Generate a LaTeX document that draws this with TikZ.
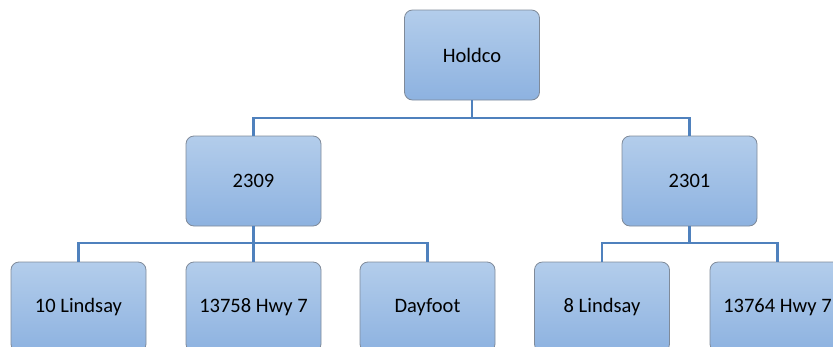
\documentclass[tikz,border=0pt]{standalone}
\usepackage{fontspec}
\setmainfont{Carlito}
\usetikzlibrary{shadings}
\definecolor{boxtop}{HTML}{B3CDEB}
\definecolor{boxbot}{HTML}{8DB2E0}
\definecolor{boxedge}{HTML}{7F8A99}
\definecolor{linkc}{HTML}{4F81BD}
\tikzset{
  orgbox/.style={draw=boxedge, line width=0.8pt, rounded corners=8pt,
    top color=boxtop, bottom color=boxbot, minimum width=135pt,
    minimum height=90pt, inner sep=0pt, font=\fontsize{20.5}{24}\selectfont},
  link/.style={draw=linkc, line width=2.2pt}
}
\begin{document}
\begin{tikzpicture}[x=1pt,y=-1pt]
\clip (0,0) rectangle (833,346);
\useasboundingbox (0,0) rectangle (833,346);
\node[orgbox] (holdco) at (472,55) {Holdco};
\node[orgbox] (n2309) at (253.5,181) {2309};
\node[orgbox] (n2301) at (689.5,181) {2301};
\node[orgbox] (l10) at (78.5,307) {10 Lindsay};
\node[orgbox] (h13758) at (253.5,307) {13758 Hwy 7};
\node[orgbox] (day) at (427.5,307) {Dayfoot};
\node[orgbox] (l8) at (602,307) {8 Lindsay};
\node[orgbox] (h13764) at (777.5,307) {13764 Hwy 7};
\coordinate (j1) at (472,118);
\coordinate (j2) at (253.5,243);
\coordinate (j3) at (689.5,243);
\draw[link] (holdco.south) -- (j1);
\draw[link] (n2309.north) |- (j1) -| (n2301.north);
\draw[link] (n2309.south) -- (h13758.north);
\draw[link] (l10.north) |- (j2) -| (day.north);
\draw[link] (n2301.south) -- (j3);
\draw[link] (l8.north) |- (j3) -| (h13764.north);
\end{tikzpicture}
\end{document}
